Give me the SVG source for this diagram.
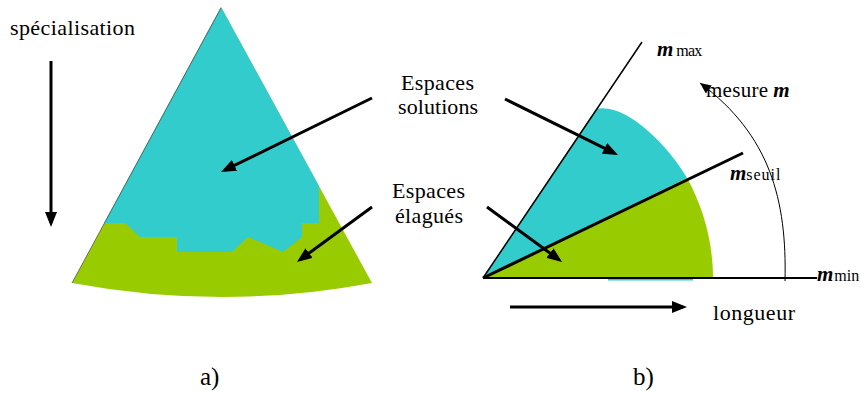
<svg xmlns="http://www.w3.org/2000/svg" width="861" height="394" viewBox="0 0 861 394">
<defs>
<style>
text{font-family:'Liberation Serif','Times New Roman','DejaVu Serif',serif;fill:#000}
.t{font-size:22px}
.mi{font-style:italic;font-weight:bold;font-size:21px}
.sm{font-size:16px}
.lab{font-size:25px}
.cyan{fill:#33CCCC}
.green{fill:#99CC00}
.arr{stroke:#000;stroke-width:3;fill:none;marker-end:url(#ah)}
</style>
<marker id="ah" markerUnits="userSpaceOnUse" markerWidth="16" markerHeight="12" refX="11" refY="6" orient="auto">
<path d="M0,0 L15,6 L0,12 Z" fill="#000"/>
</marker>
<marker id="ahs" markerUnits="userSpaceOnUse" markerWidth="12" markerHeight="10" refX="11" refY="5" orient="auto">
<path d="M0,0 L11,5 L0,10 Z" fill="#000"/>
</marker>
</defs>
<rect width="861" height="394" fill="#fff"/>

<g id="cone">
<path class="green" d="M221,7 L72,283 Q222,311 372,283 Z"/>
<path class="cyan" d="M221,7 L104,223 L125,223 L140,237 L177,237 L177,252 L232,252 L248,237 L283,252 L302,237 L302,223 L319,223 L319,186 Z"/>
<line x1="221" y1="8" x2="72" y2="283" stroke="#555" stroke-width="0.8"/>
</g>

<g id="sector">
<line x1="608" y1="279.5" x2="693" y2="279.5" stroke="#33CCCC" stroke-width="2"/>
<path class="green" d="M483,278 L687,178 C702,205 713,240 713,278 Z"/>
<path class="cyan" d="M483,278 L596,109 C625,102 668,145 687,178 Z"/>
</g>

<g id="axes">
<line x1="483" y1="278" x2="642" y2="42" stroke="#000" stroke-width="1.5"/>
<line x1="483" y1="278" x2="743" y2="153" stroke="#000" stroke-width="3"/>
<line x1="483" y1="278" x2="817" y2="278" stroke="#000" stroke-width="2"/>
</g>

<g id="connectors">
<path class="arr" d="M51,61 L51,223"/>
<path class="arr" d="M372,98 L224.6,170.2"/>
<path class="arr" d="M372,207 L300.2,259.6"/>
<path class="arr" d="M505,99 L614.4,153.2"/>
<path class="arr" d="M487,207 L558.8,259.6"/>
<path class="arr" d="M510,307 L683,307"/>
<path d="M785,281 C787,200 770,135 700,83" stroke="#000" stroke-width="1" fill="none" marker-end="url(#ahs)"/>
</g>

<g id="labels">
<text class="t" x="10" y="35" textLength="125">spécialisation</text>
<text class="t" x="401" y="90" textLength="73">Espaces</text>
<text class="t" x="398" y="114" textLength="80">solutions</text>
<text class="t" x="392" y="198" textLength="73">Espaces</text>
<text class="t" x="395" y="223" textLength="68">élagués</text>
<text class="t" x="713" y="320" textLength="82">longueur</text>
<text class="lab" x="200" y="385">a)</text>
<text class="lab" x="633" y="385">b)</text>
<text x="657" y="56"><tspan class="mi">m</tspan><tspan class="sm" dx="3" textLength="26">max</tspan></text>
<text x="706" y="97"><tspan class="t" style="font-size:21px" textLength="62">mesure</tspan><tspan class="mi" dx="5">m</tspan></text>
<text x="730" y="180"><tspan class="mi">m</tspan><tspan class="sm" textLength="34">seuil</tspan></text>
<text x="817" y="281"><tspan class="mi">m</tspan><tspan class="sm" dx="1">min</tspan></text>
</g>
</svg>
